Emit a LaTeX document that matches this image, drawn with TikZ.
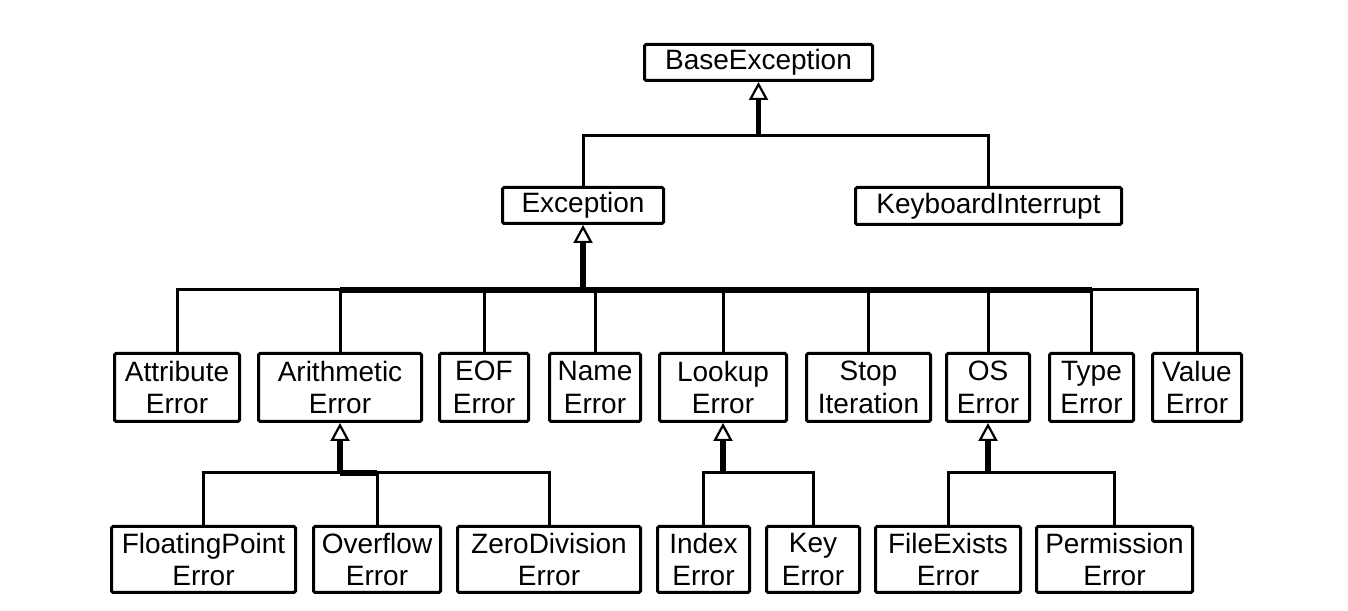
\documentclass[tikz,border=0pt]{standalone}
\usepackage{fontspec}
\setmainfont{Liberation Sans}
\usetikzlibrary{arrows.meta}

\begin{document}
\begin{tikzpicture}[line join=miter,
  cls/.style={draw,rectangle,rounded corners=1.5bp,line width=3bp,align=center,inner sep=0pt,font=\fontsize{28bp}{32.5bp}\selectfont},
  gen/.style={line width=3bp},
  bus/.style={line width=5.5bp},
  isa/.style={line width=5.5bp,-{Triangle[open,width=19bp,length=18bp,line width=2.2bp]}}]
\useasboundingbox (0bp,0bp) rectangle (1348bp,611bp);
%%
  \node (BaseException) at (758.5bp,548.5bp) [cls,minimum width=228bp,minimum height=36bp] {BaseException};
  \node (Exception) at (583.0bp,405.5bp) [cls,minimum width=161bp,minimum height=36bp] {Exception};
  \node (KeyboardInterrupt) at (988.5bp,405.0bp) [cls,minimum width=266bp,minimum height=37bp] {KeyboardInterrupt};
  \node (AttributeError) at (177.0bp,223.5bp) [cls,minimum width=125bp,minimum height=68bp] {Attribute\\Error};
  \node (ArithmeticError) at (340.0bp,223.5bp) [cls,minimum width=163bp,minimum height=68bp] {Arithmetic\\Error};
  \node (EOFError) at (484.0bp,223.5bp) [cls,minimum width=89bp,minimum height=68bp] {EOF\\Error};
  \node (NameError) at (595.0bp,223.5bp) [cls,minimum width=91bp,minimum height=68bp] {Name\\Error};
  \node (LookupError) at (723.0bp,223.5bp) [cls,minimum width=127bp,minimum height=68bp] {Lookup\\Error};
  \node (StopIteration) at (868.5bp,223.5bp) [cls,minimum width=124bp,minimum height=68bp] {Stop\\Iteration};
  \node (OSError) at (988.0bp,223.5bp) [cls,minimum width=83bp,minimum height=68bp] {OS\\Error};
  \node (TypeError) at (1091.5bp,223.5bp) [cls,minimum width=84bp,minimum height=68bp] {Type\\Error};
  \node (ValueError) at (1197.0bp,223.5bp) [cls,minimum width=89bp,minimum height=68bp] {Value\\Error};
  \node (FloatingPointError) at (203.5bp,51.5bp) [cls,minimum width=184bp,minimum height=66bp] {FloatingPoint\\Error};
  \node (OverflowError) at (377.0bp,51.5bp) [cls,minimum width=127bp,minimum height=66bp] {Overflow\\Error};
  \node (ZeroDivisionError) at (549.0bp,51.5bp) [cls,minimum width=183bp,minimum height=66bp] {ZeroDivision\\Error};
  \node (IndexError) at (703.5bp,51.5bp) [cls,minimum width=92bp,minimum height=66bp] {Index\\Error};
  \node (KeyError) at (813.0bp,51.5bp) [cls,minimum width=93bp,minimum height=66bp] {Key\\Error};
  \node (FileExistsError) at (948.0bp,51.5bp) [cls,minimum width=145bp,minimum height=66bp] {FileExists\\Error};
  \node (PermissionError) at (1114.5bp,51.5bp) [cls,minimum width=156bp,minimum height=66bp] {Permission\\Error};
%%
  \coordinate (jBase) at (758.5bp,475.0bp);
  \coordinate (jException) at (583.0bp,321.0bp);
  \coordinate (jArithmetic) at (340.0bp,138.0bp);
  \coordinate (jLookup) at (723.0bp,138.0bp);
  \coordinate (jOS) at (988.0bp,138.0bp);
%
  \draw [gen] (Exception.north) |- (jBase);
  \draw [gen] (KeyboardInterrupt.north) |- (jBase);
  \draw [isa] (jBase) -- (BaseException.south);
%
  \draw [gen] (AttributeError.north) |- (jException);
  \draw [gen] (ArithmeticError.north) |- (jException);
  \draw [gen] (EOFError.north) |- (jException);
  \draw [gen] (NameError.north) |- (jException);
  \draw [gen] (LookupError.north) |- (jException);
  \draw [gen] (StopIteration.north) |- (jException);
  \draw [gen] (OSError.north) |- (jException);
  \draw [gen] (TypeError.north) |- (jException);
  \draw [gen] (ValueError.north) |- (jException);
  \draw [bus] (ArithmeticError.north |- jException) -- (TypeError.north |- jException);
  \draw [isa] (jException) -- (Exception.south);
%
  \draw [gen] (FloatingPointError.north) |- (jArithmetic);
  \draw [gen] (OverflowError.north) |- (jArithmetic);
  \draw [gen] (ZeroDivisionError.north) |- (jArithmetic);
  \draw [bus] (jArithmetic) -- (OverflowError.north |- jArithmetic);
  \draw [isa] (jArithmetic) -- (ArithmeticError.south);
%
  \draw [gen] (IndexError.north) |- (jLookup);
  \draw [gen] (KeyError.north) |- (jLookup);
  \draw [isa] (jLookup) -- (LookupError.south);
%
  \draw [gen] (FileExistsError.north) |- (jOS);
  \draw [gen] (PermissionError.north) |- (jOS);
  \draw [isa] (jOS) -- (OSError.south);
%
\end{tikzpicture}
\end{document}
